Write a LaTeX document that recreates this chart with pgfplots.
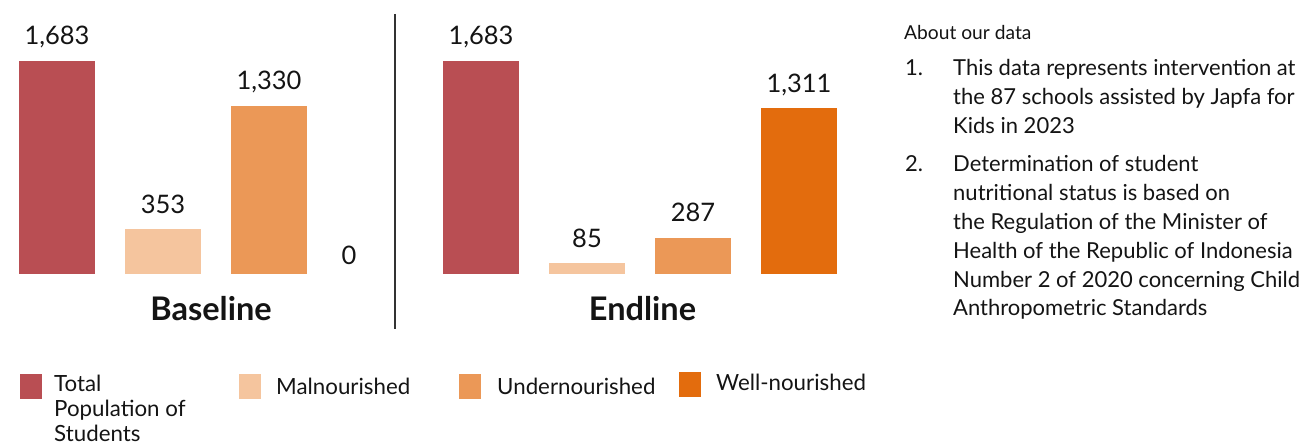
\documentclass[border=0pt]{standalone}
\usepackage{pgfplots}
\pgfplotsset{compat=1.18}
\usepackage{fontspec}
\setmainfont{Lato}
\definecolor{cTot}{RGB}{185,78,83}
\definecolor{cMal}{RGB}{245,197,158}
\definecolor{cUnd}{RGB}{235,152,87}
\definecolor{cWell}{RGB}{227,108,13}
\definecolor{txt}{RGB}{20,20,20}
\begin{document}
\begin{tikzpicture}
\useasboundingbox (0pt,0pt) rectangle (1303pt,446pt);
\pgfplotsset{
  panel/.style={hide axis, scale only axis, width=424pt, height=213pt,
    xmin=-0.5, xmax=3.5, ymin=0, ymax=1683, clip=false,
    ybar, bar width=76pt, bar shift=0pt, anchor=south west,
    /pgf/number format/assume math mode=true,
    /pgf/number format/1000 sep={,},
    nodes near coords,
    every node near coord/.append style={font=\fontsize{25.5}{30}\selectfont, text=txt, anchor=base, yshift=16pt},
    every axis plot/.append style={draw=none}},
}
% Baseline panel
\begin{axis}[panel, at={(4pt,172pt)}]
\addplot[fill=cTot] coordinates {(0,1683)};
\addplot[fill=cMal] coordinates {(1,353)};
\addplot[fill=cUnd] coordinates {(2,1330)};
\addplot[fill=none, every node near coord/.append style={yshift=-7pt, xshift=-26pt}] coordinates {(3,0)};
\end{axis}
% Endline panel
\begin{axis}[panel, at={(428pt,172pt)}]
\addplot[fill=cTot] coordinates {(0,1683)};
\addplot[fill=cMal] coordinates {(1,85)};
\addplot[fill=cUnd] coordinates {(2,287)};
\addplot[fill=cWell] coordinates {(3,1311)};
\end{axis}
% panel titles
\node[anchor=base, text=txt, font=\fontsize{32.5}{38}\selectfont\bfseries] at (211pt,125pt) {Baseline};
\node[anchor=base, text=txt, font=\fontsize{32.5}{38}\selectfont\bfseries] at (642.5pt,125pt) {Endline};
% divider
\draw[line width=2pt, color=black!80] (394.5pt,432pt) -- (394.5pt,117pt);
% notes
\begin{scope}[every node/.style={anchor=base west, inner sep=0pt, text=txt, font=\fontsize{22}{28}\selectfont}]
\node[font=\fontsize{19.2}{22}\selectfont] at (904pt,406pt) {About our data};
\node at (905pt,370pt) {1.};
\node at (953pt,370pt) {This data represents intervention at};
\node at (953pt,341pt) {the 87 schools assisted by Japfa for};
\node at (953pt,312pt) {Kids in 2023};
\node at (905pt,274pt) {2.};
\node at (953pt,274pt) {Determination of student};
\node at (953pt,245.2pt) {nutritional status is based on};
\node at (953pt,216.4pt) {the Regulation of the Minister of};
\node at (953pt,187.6pt) {Health of the Republic of Indonesia};
\node at (953pt,158.8pt) {Number 2 of 2020 concerning Child};
\node at (953pt,130pt) {Anthropometric Standards};
\end{scope}
% legend
\fill[cTot] (20pt,47pt) rectangle (42pt,72pt);
\fill[cMal] (239pt,47pt) rectangle (261pt,72pt);
\fill[cUnd] (459pt,47pt) rectangle (481pt,72pt);
\fill[cWell] (679pt,49pt) rectangle (701pt,74pt);
\begin{scope}[every node/.style={anchor=base west, inner sep=0pt, text=txt, font=\fontsize{22.3}{25}\selectfont}]
\node at (54pt,54pt) {Total};
\node at (54pt,29pt) {Population of};
\node at (54pt,4pt) {Students};
\node at (276pt,51pt) {Malnourished};
\node at (497pt,51pt) {Undernourished};
\node at (716pt,55pt) {Well-nourished};
\end{scope}
\end{tikzpicture}
\end{document}
